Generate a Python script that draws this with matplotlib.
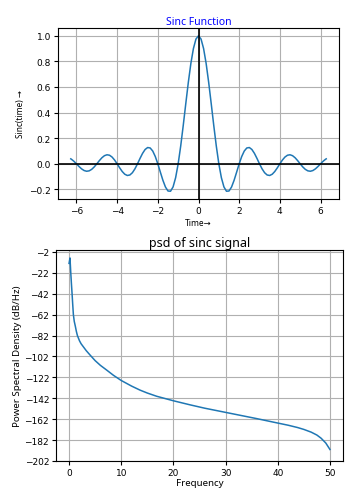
import numpy as np
import matplotlib
matplotlib.use("Agg")
import matplotlib.pyplot as plt

# ---- Data: sinc function ----
time_vals = [-6.28, -6.25, -6.125, -6.0, -5.875, -5.75, -5.625, -5.5, -5.375, -5.25, -5.125,
             -5.0, -4.875, -4.75, -4.625, -4.5, -4.375, -4.25, -4.125,
             -4.0, -3.875, -3.75, -3.625, -3.5, -3.375, -3.25, -3.125,
             -3.0, -2.875, -2.75, -2.625, -2.5, -2.375, -2.25, -2.125,
             -2.0, -1.875, -1.75, -1.625, -1.5, -1.375, -1.25, -1.125,
             -1.0, -0.875, -0.75, -0.625, -0.5, -0.375, -0.25, -0.125,
             0.0, 0.125, 0.25, 0.375, 0.5, 0.625, 0.75, 0.875,
             1.0, 1.125, 1.25, 1.375, 1.5, 1.625, 1.75, 1.875,
             2.0, 2.125, 2.25, 2.375, 2.5, 2.625, 2.75, 2.875,
             3.0, 3.125, 3.25, 3.375, 3.5, 3.625, 3.75, 3.875,
             4.0, 4.125, 4.25, 4.375, 4.5, 4.625, 4.75, 4.875,
             5.0, 5.125, 5.25, 5.375, 5.5, 5.625, 5.75, 5.875,
             6.0, 6.125, 6.25, 6.28]
sinc_vals = [0.039, 0.036, 0.0199, 0.0, -0.0207, -0.0391, -0.0523, -0.0579, -0.0547, -0.0429, -0.0238,
             0.0, 0.0250, 0.0474, 0.0636, 0.0707, 0.0672, 0.0530, 0.0295,
             0.0, -0.0314, -0.0600, -0.0811, -0.0909, -0.0871, -0.0693, -0.0390,
             0.0, 0.0424, 0.0818, 0.1120, 0.1273, 0.1238, 0.1000, 0.0573,
             0.0, -0.0650, -0.1286, -0.1810, -0.2122, -0.2139, -0.1801, -0.1083,
             0.0, 0.1392, 0.3001, 0.4705, 0.6366, 0.7842, 0.9003, 0.9745,
             1.0, 0.9745, 0.9003, 0.7842, 0.6366, 0.4705, 0.3001, 0.1392,
             0.0, -0.1083, -0.1801, -0.2139, -0.2122, -0.1810, -0.1286, -0.0650,
             0.0, 0.0573, 0.1000, 0.1238, 0.1273, 0.1120, 0.0818, 0.0424,
             0.0, -0.0390, -0.0693, -0.0871, -0.0909, -0.0811, -0.0600, -0.0314,
             0.0, 0.0295, 0.0530, 0.0672, 0.0707, 0.0636, 0.0474, 0.0250,
             0.0, -0.0238, -0.0429, -0.0547, -0.0579, -0.0523, -0.0391, -0.0207,
             0.0, 0.0199, 0.036, 0.039]

# ---- Data: PSD of the sinc signal ----
psd_freq = [0.0, 0.18, 0.33, 0.45, 0.58, 0.7, 0.83, 1.0, 1.2, 1.4, 1.6, 2.0, 2.3, 2.7, 3.3, 4.0,
            5.0, 6.0, 7.2, 8.5, 10.0, 12.0, 13.6, 15.0, 16.8, 20.0, 23.2, 26.0,
            30.0, 33.0, 36.0, 39.8, 42.0, 43.8, 45.0, 46.4, 47.5, 48.3, 49.2, 50.0]
psd_db = [-13.0, -7.8, -22.0, -32.0, -42.0, -52.0, -62.0, -68.5, -73.0, -78.0, -82.0, -87.0, -89.8, -92.5, -96.5, -100.5,
          -106.0, -110.5, -115.0, -120.0, -125.0, -130.4, -134.2, -137.0, -140.1, -144.4, -148.3, -151.5,
          -155.5, -158.5, -161.5, -165.5, -167.8, -170.0, -171.8, -174.4, -177.2, -180.2, -184.8, -191.0]
psd_ticks = [-2, -22, -42, -62, -82, -102, -122, -142, -162, -182, -202]

fig = plt.figure(figsize=(3.53, 5.02), dpi=100)
W, H = 353, 502

def axes_px(l, t, r, b):
    return fig.add_axes([l / W, 1 - b / H, (r - l) / W, (b - t) / H])

lab_font = ['Noto Sans', 'DejaVu Sans']

# Top: sinc
ax1 = axes_px(58, 29, 339, 200)
ax1.plot(time_vals, sinc_vals, color='#1f77b4', lw=1.1)
ax1.axhline(0, color='black', lw=1.2)
ax1.axvline(0, color='black', lw=1.2)
ax1.grid(True, color='#b0b0b0', lw=0.8)
ax1.set_axisbelow(True)
ax1.set_title('Sinc Function', color='blue', fontsize=7.5, family=lab_font, pad=3)
ax1.set_xlabel('Time→', fontsize=6, family=lab_font, labelpad=2)
ax1.set_ylabel('Sinc(time) →', fontsize=6, family=lab_font, labelpad=3)
ax1.tick_params(labelsize=6.5, length=3, pad=2)

# Bottom: PSD
ax2 = axes_px(56, 251, 343, 462)
ax2.plot(psd_freq, psd_db, color='#1f77b4', lw=1.1)
ax2.grid(True, color='#b0b0b0', lw=0.8)
ax2.set_yticks(psd_ticks)
ax2.set_ylim(-202, -0.2)
ax2.set_title('psd of sinc signal', fontsize=9, family=lab_font, pad=3)
ax2.set_xlabel('Frequency', fontsize=7, family=lab_font, labelpad=1)
ax2.set_ylabel('Power Spectral Density (dB/Hz)', fontsize=7, family=lab_font, labelpad=2)
ax2.tick_params(labelsize=6.5, length=3, pad=2)

fig.savefig('out.png', dpi=100)
